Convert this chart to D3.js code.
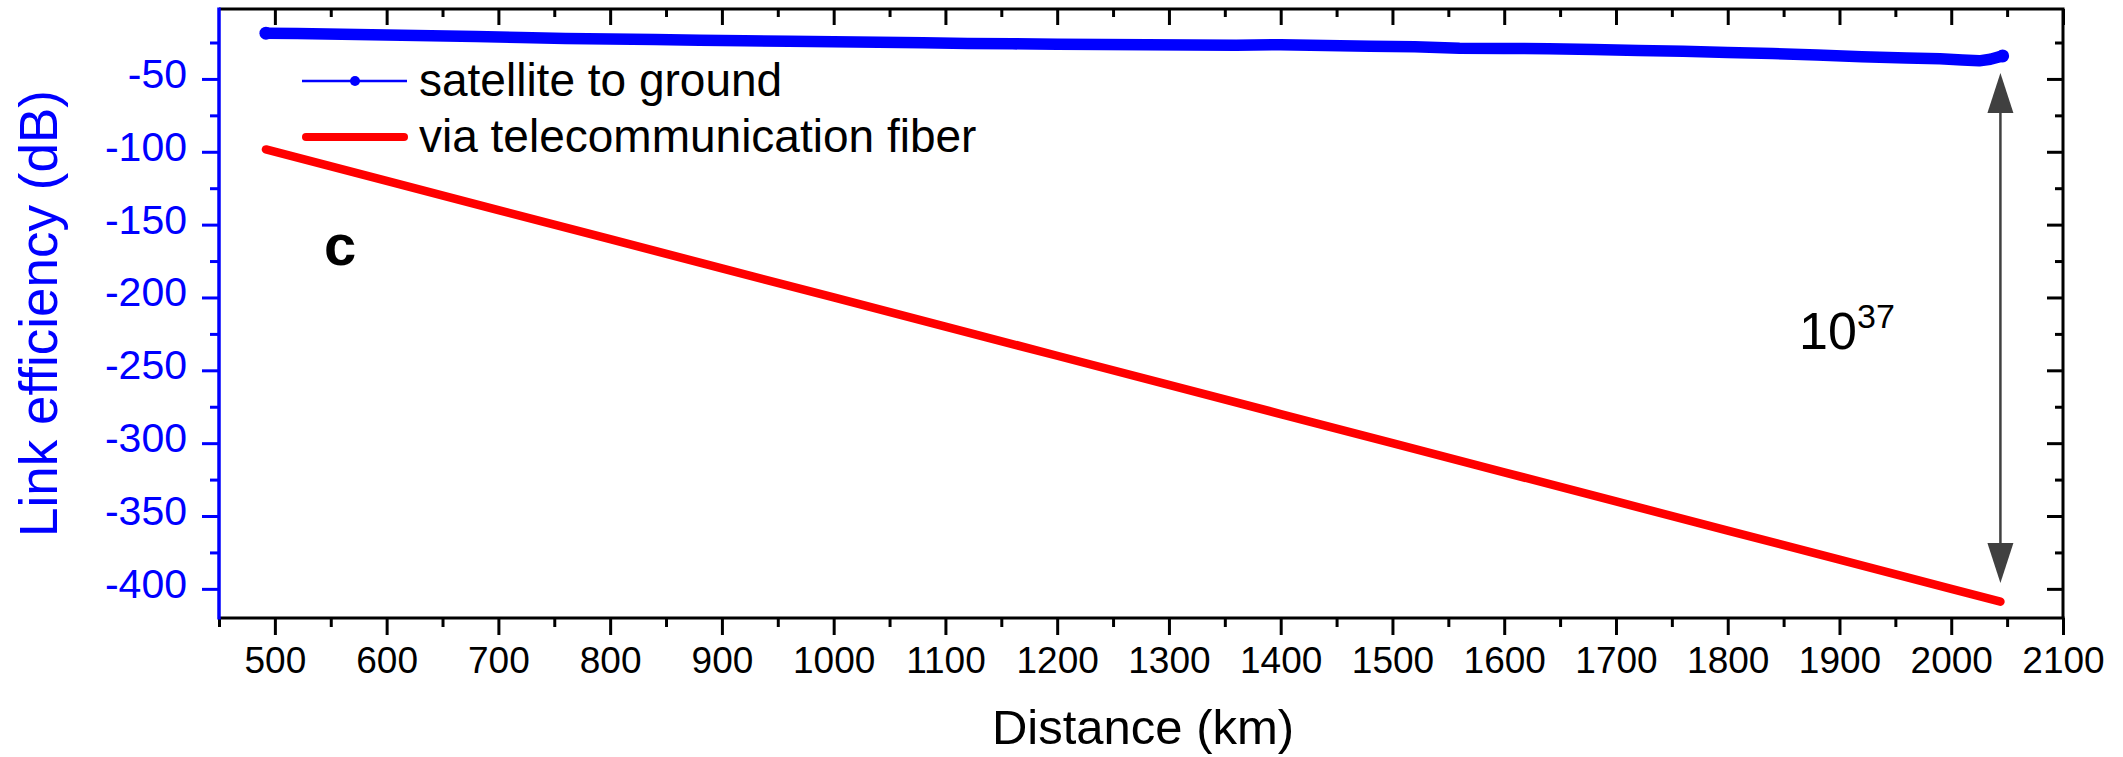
<!DOCTYPE html>
<html>
<head>
<meta charset="utf-8">
<script src="https://cdn.jsdelivr.net/npm/d3@7"></script>
<style>
  html, body { margin: 0; padding: 0; background: #fff; }
  svg { display: block; }
  text { font-family: "Liberation Sans", Arial, sans-serif; }
</style>
</head>
<body>
<svg id="chart" width="2123" height="757"></svg>
<script>
// ---------------- data ----------------
const satKm = [492, 520, 560, 600, 640, 680, 720, 760, 800, 840, 880, 920, 960, 1000,
  1040, 1080, 1120, 1160, 1200, 1240, 1280, 1320, 1360, 1400, 1440, 1480, 1520, 1560,
  1600, 1640, 1680, 1720, 1760, 1800, 1840, 1880, 1920, 1960, 1990, 2010, 2025, 2035, 2046];
const satDb = [-18.6, -18.8, -19.3, -19.8, -20.3, -20.9, -21.6, -22.2, -22.6, -23.0, -23.4,
  -23.8, -24.2, -24.5, -24.8, -25.2, -25.6, -25.9, -26.2, -26.4, -26.6, -26.7, -26.8, -26.5,
  -27.0, -27.5, -27.9, -29.0, -29.1, -29.3, -29.8, -30.4, -31.0, -31.8, -32.6, -33.6, -34.8,
  -35.6, -36.2, -37.0, -37.6, -36.5, -34.2];

const fiberKm = [492, 600, 700, 800, 900, 1000, 1100, 1200, 1300, 1400, 1500, 1600, 1700,
  1800, 1900, 2000, 2044];
const fiberDb = [-98.4, -120, -140, -160, -180, -200, -220, -240, -260, -280, -300, -320,
  -340, -360, -380, -400, -408.8];

const xMajorTicks = [500, 600, 700, 800, 900, 1000, 1100, 1200, 1300, 1400, 1500, 1600,
  1700, 1800, 1900, 2000, 2100];
const xMinorTicks = [450, 550, 650, 750, 850, 950, 1050, 1150, 1250, 1350, 1450, 1550,
  1650, 1750, 1850, 1950, 2050];
const yMajorTicks = [-50, -100, -150, -200, -250, -300, -350, -400];
const yMinorTicks = [-25, -75, -125, -175, -225, -275, -325, -375];

const seriesNames = ["satellite to ground", "via telecommunication fiber"];
const xTitle = "Distance (km)";
const yTitle = "Link efficiency (dB)";
const panelLabel = "c";
// annotation arrow (km, dB top, dB bottom) and ratio label
const arrowKm = 2044, arrowTopDb = -46, arrowBottomDb = -396;
const ratioBase = "10", ratioExp = "37";

// ---------------- layout ----------------
const pLeft = 219, pRight = 2063, pTop = 9, pBottom = 618;
const x = d3.scaleLinear().domain([450, 2100]).range([pLeft, pRight]);
const y = d3.scaleLinear().domain([-420, -2]).range([pBottom, pTop]);

const svg = d3.select("#chart");
const BLUE = "#0000ff", RED = "#ff0000", GREY = "#404040";
const fmt = d => String(d);   // plain hyphen-minus like the original

// ---------------- series ----------------
const sat = satKm.map((k, i) => [k, satDb[i]]);
const fib = fiberKm.map((k, i) => [k, fiberDb[i]]);
const line = d3.line().x(d => x(d[0])).y(d => y(d[1]));

svg.append("path").datum(fib)
  .attr("d", line).attr("fill", "none").attr("stroke", RED)
  .attr("stroke-width", 8.5).attr("stroke-linecap", "round").attr("stroke-linejoin", "round");

svg.append("path").datum(sat)
  .attr("d", line).attr("fill", "none").attr("stroke", BLUE)
  .attr("stroke-width", 11.5).attr("stroke-linecap", "round").attr("stroke-linejoin", "round");
svg.selectAll("circle.sat").data([sat[0], sat[sat.length - 1]]).enter().append("circle")
  .attr("class", "sat").attr("cx", d => x(d[0])).attr("cy", d => y(d[1]))
  .attr("r", 6.5).attr("fill", BLUE);

// ---------------- axes ----------------
function styleAxis(g, color) {
  g.select(".domain").remove();
  g.selectAll("line").attr("stroke", color).attr("stroke-width", 3);
}

// bottom
const gB = svg.append("g").attr("transform", `translate(0,${pBottom})`)
  .call(d3.axisBottom(x).tickValues(xMajorTicks).tickSize(17).tickFormat(fmt));
styleAxis(gB, "#000");
gB.selectAll("text").attr("y", 55).attr("dy", 0)
  .attr("font-size", 37).attr("fill", "#000");
const gBm = svg.append("g").attr("transform", `translate(0,${pBottom})`)
  .call(d3.axisBottom(x).tickValues(xMinorTicks).tickSize(9).tickFormat(""));
styleAxis(gBm, "#000");

// top (inward)
const gT = svg.append("g").attr("transform", `translate(0,${pTop})`)
  .call(d3.axisBottom(x).tickValues(xMajorTicks).tickSize(16).tickFormat(""));
styleAxis(gT, "#000");
const gTm = svg.append("g").attr("transform", `translate(0,${pTop})`)
  .call(d3.axisBottom(x).tickValues(xMinorTicks.slice(1)).tickSize(8).tickFormat(""));
styleAxis(gTm, "#000");

// right (inward)
const gR = svg.append("g").attr("transform", `translate(${pRight},0)`)
  .call(d3.axisLeft(y).tickValues(yMajorTicks).tickSize(16).tickFormat(""));
styleAxis(gR, "#000");
const gRm = svg.append("g").attr("transform", `translate(${pRight},0)`)
  .call(d3.axisLeft(y).tickValues(yMinorTicks).tickSize(8).tickFormat(""));
styleAxis(gRm, "#000");

// left (blue, outward)
const gL = svg.append("g").attr("transform", `translate(${pLeft},0)`)
  .call(d3.axisLeft(y).tickValues(yMajorTicks).tickSize(17).tickFormat(fmt));
styleAxis(gL, BLUE);
gL.selectAll("text").attr("x", -32).attr("dy", 8.5)
  .attr("font-size", 41).attr("fill", BLUE);
const gLm = svg.append("g").attr("transform", `translate(${pLeft},0)`)
  .call(d3.axisLeft(y).tickValues(yMinorTicks).tickSize(9).tickFormat(""));
styleAxis(gLm, BLUE);

// frame lines
svg.append("line").attr("x1", pLeft).attr("x2", pRight + 1.5).attr("y1", pTop).attr("y2", pTop)
  .attr("stroke", "#000").attr("stroke-width", 3);
svg.append("line").attr("x1", pRight).attr("x2", pRight).attr("y1", pTop).attr("y2", pBottom)
  .attr("stroke", "#000").attr("stroke-width", 3);
svg.append("line").attr("x1", pLeft).attr("x2", pRight + 1.5).attr("y1", pBottom).attr("y2", pBottom)
  .attr("stroke", "#000").attr("stroke-width", 3);
svg.append("line").attr("x1", pLeft).attr("x2", pLeft).attr("y1", pTop - 1.5).attr("y2", pBottom + 1.5)
  .attr("stroke", BLUE).attr("stroke-width", 3.5);

// axis titles
svg.append("text").attr("x", (pLeft + pRight) / 2 + 2).attr("y", 744)
  .attr("text-anchor", "middle").attr("font-size", 49).attr("fill", "#000").text(xTitle);
svg.append("text").attr("transform", `translate(57,${(pTop + pBottom) / 2}) rotate(-90)`)
  .attr("text-anchor", "middle").attr("font-size", 53).attr("fill", BLUE).text(yTitle);

// ---------------- legend ----------------
const lg = svg.append("g");
lg.append("line").attr("x1", 302).attr("x2", 407).attr("y1", 81).attr("y2", 81)
  .attr("stroke", BLUE).attr("stroke-width", 2.5);
lg.append("circle").attr("cx", 355).attr("cy", 81).attr("r", 5).attr("fill", BLUE);
lg.append("text").attr("x", 419).attr("y", 96).attr("font-size", 46).attr("fill", "#000")
  .text(seriesNames[0]);
lg.append("line").attr("x1", 306).attr("x2", 404).attr("y1", 137).attr("y2", 137)
  .attr("stroke", RED).attr("stroke-width", 8).attr("stroke-linecap", "round");
lg.append("text").attr("x", 419).attr("y", 152).attr("font-size", 46).attr("fill", "#000")
  .text(seriesNames[1]);

// panel label
svg.append("text").attr("x", 324).attr("y", 265).attr("font-size", 58)
  .attr("font-weight", "bold").attr("fill", "#000").text(panelLabel);

// ---------------- annotation arrow ----------------
const ax = x(arrowKm), aTop = y(arrowTopDb), aBot = y(arrowBottomDb);
const headL = 40, headW = 13;
svg.append("line").attr("x1", ax).attr("x2", ax).attr("y1", aTop + headL - 2).attr("y2", aBot - headL + 2)
  .attr("stroke", GREY).attr("stroke-width", 2.5);
svg.append("path")
  .attr("d", `M${ax},${aTop} L${ax - headW},${aTop + headL} L${ax + headW},${aTop + headL} Z`)
  .attr("fill", GREY);
svg.append("path")
  .attr("d", `M${ax},${aBot} L${ax - headW},${aBot - headL} L${ax + headW},${aBot - headL} Z`)
  .attr("fill", GREY);

svg.append("text").attr("x", 1799).attr("y", 349).attr("font-size", 52).attr("fill", "#000")
  .text(ratioBase);
svg.append("text").attr("x", 1857).attr("y", 328).attr("font-size", 34).attr("fill", "#000")
  .text(ratioExp);
</script>
</body>
</html>
